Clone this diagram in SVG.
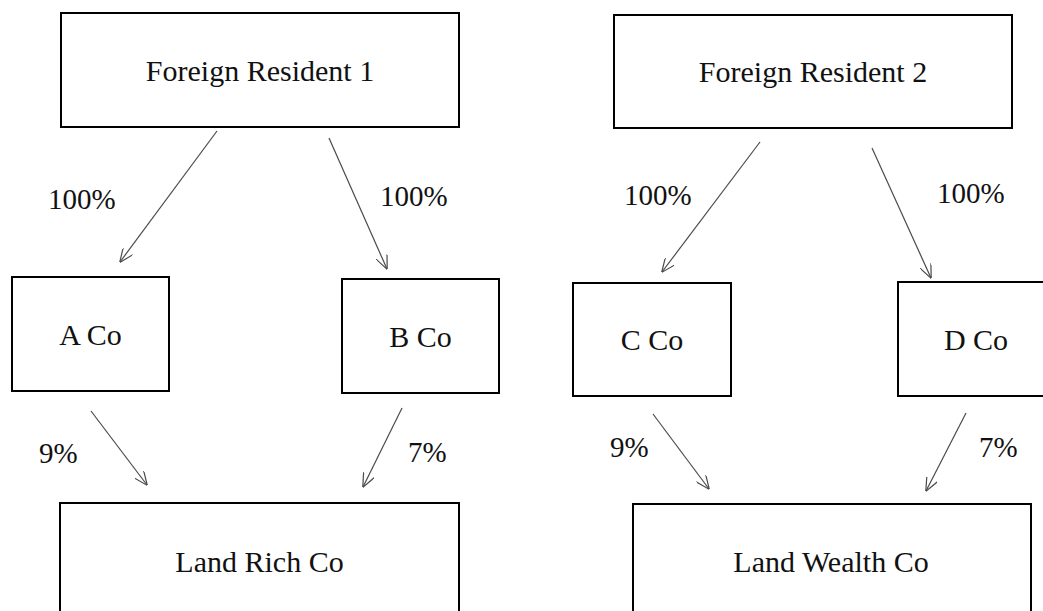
<svg xmlns="http://www.w3.org/2000/svg" width="1043" height="611" viewBox="0 0 1043 611">
<style>
  .box { fill: #ffffff; stroke: #000000; stroke-width: 2; }
  .name { font-family: "Liberation Serif", "Times New Roman", serif; font-size: 30px; fill: #111111; text-anchor: middle; }
  .pct { font-family: "Liberation Serif", "Times New Roman", serif; font-size: 29px; fill: #111111; }
  .conn { stroke: #4a4a4a; stroke-width: 1.2; fill: none; marker-end: url(#arr); }
</style>
<defs>
  <marker id="arr" viewBox="0 0 14 12" refX="13.5" refY="6" markerWidth="14" markerHeight="12" markerUnits="userSpaceOnUse" orient="auto">
    <path d="M0,0 L14,6 L0,12" fill="none" stroke="#4a4a4a" stroke-width="1.2"/>
  </marker>
</defs>
<rect width="1043" height="611" fill="#ffffff"/>

<g id="fr1">
  <rect class="box" x="61" y="13" width="398" height="114"/>
  <text class="name" x="260" y="81">Foreign Resident 1</text>
</g>
<g id="fr2">
  <rect class="box" x="614" y="15" width="398" height="113"/>
  <text class="name" x="813" y="82">Foreign Resident 2</text>
</g>
<g id="aco">
  <rect class="box" x="12" y="277" width="157" height="114"/>
  <text class="name" x="90.5" y="345">A Co</text>
</g>
<g id="bco">
  <rect class="box" x="342" y="279" width="157" height="114"/>
  <text class="name" x="420.5" y="347">B Co</text>
</g>
<g id="cco">
  <rect class="box" x="573" y="283" width="158" height="113"/>
  <text class="name" x="652" y="350">C Co</text>
</g>
<g id="dco">
  <rect class="box" x="898" y="282" width="156" height="114"/>
  <text class="name" x="976" y="350">D Co</text>
</g>
<g id="landrich">
  <rect class="box" x="60" y="503" width="399" height="116"/>
  <text class="name" x="259.5" y="572">Land Rich Co</text>
</g>
<g id="landwealth">
  <rect class="box" x="633" y="504" width="398" height="116"/>
  <text class="name" x="831" y="572">Land Wealth Co</text>
</g>

<g id="connectors">
  <line class="conn" x1="217" y1="131" x2="120" y2="262"/>
  <line class="conn" x1="329" y1="138" x2="387" y2="269"/>
  <line class="conn" x1="760" y1="142" x2="662" y2="272"/>
  <line class="conn" x1="872" y1="148" x2="931" y2="278"/>
  <line class="conn" x1="91" y1="411" x2="147" y2="485"/>
  <line class="conn" x1="402" y1="408" x2="363" y2="487"/>
  <line class="conn" x1="653" y1="414" x2="709" y2="489"/>
  <line class="conn" x1="966" y1="413" x2="926" y2="491"/>
</g>

<g id="labels">
  <text class="pct" x="48" y="209">100%</text>
  <text class="pct" x="380" y="206">100%</text>
  <text class="pct" x="624" y="205">100%</text>
  <text class="pct" x="937" y="203">100%</text>
  <text class="pct" x="39" y="463">9%</text>
  <text class="pct" x="408" y="462">7%</text>
  <text class="pct" x="610" y="457">9%</text>
  <text class="pct" x="979" y="457">7%</text>
</g>
</svg>
